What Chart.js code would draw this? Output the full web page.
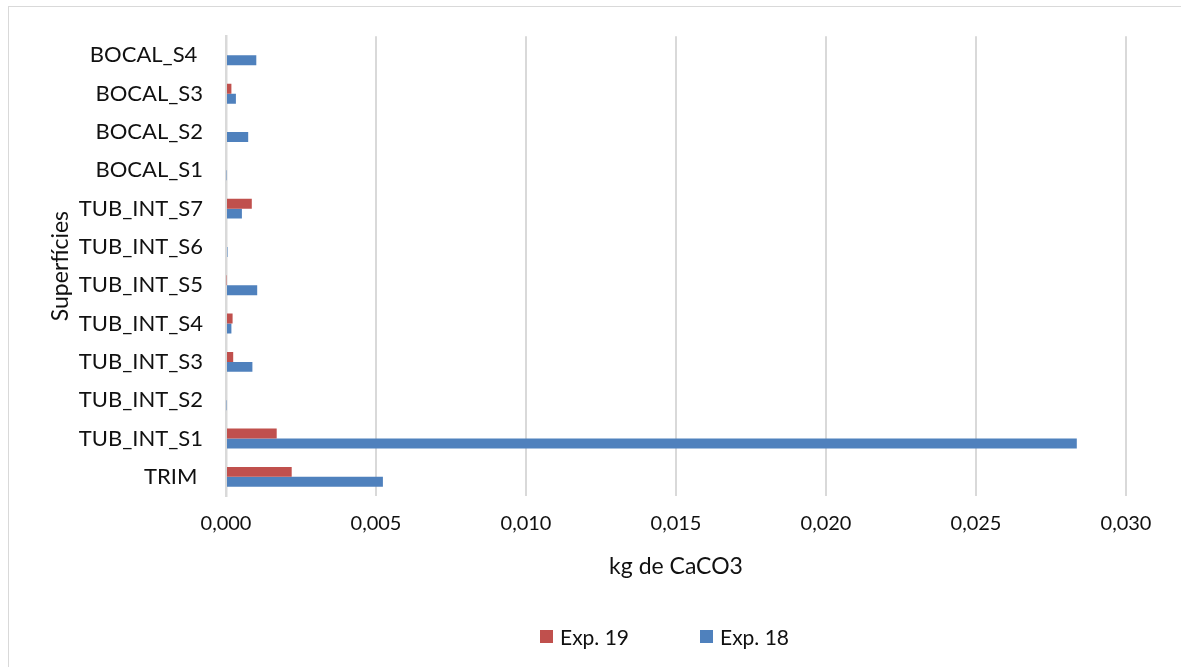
<!DOCTYPE html>
<html>
<head>
<meta charset="utf-8">
<script src="https://cdn.jsdelivr.net/npm/chart.js@4/dist/chart.umd.min.js"></script>
<style>
  html, body { margin: 0; padding: 0; background: #fff; }
  #wrap { position: relative; width: 1181px; height: 667px; overflow: hidden; }
  #frame { position: absolute; left: 8px; top: 6px; width: 1200px; height: 700px;
           border: 1.5px solid #d9d9d9; box-sizing: border-box; pointer-events: none; }
  #c { position: absolute; left: 0; top: 0; }
  .lg-item { position: absolute; top: 622px; height: 28px; display: flex; align-items: center;
             font-family: Lato, "Open Sans", sans-serif; font-size: 21px; color: #111; white-space: nowrap; }
  .lg-box { width: 13px; height: 13px; margin-right: 7px; flex: none; }
</style>
</head>
<body>
<div id="wrap">
  <div id="frame"></div>
  <canvas id="c" width="1181" height="667"></canvas>
  <div id="legend"></div>
</div>
<script>
// Surfaces, top to bottom
const surfaces = ['BOCAL_S4 ', 'BOCAL_S3', 'BOCAL_S2', 'BOCAL_S1', 'TUB_INT_S7', 'TUB_INT_S6',
  'TUB_INT_S5', 'TUB_INT_S4', 'TUB_INT_S3', 'TUB_INT_S2', 'TUB_INT_S1', 'TRIM '];

// kg de CaCO3 per surface
const exp19 = [0, 0.00018, 0, 0, 0.00086, 0, 0.00002, 0.00022, 0.00024, 0, 0.00169, 0.00219];
const exp18 = [0.00101, 0.00033, 0.00074, 0.00002, 0.00053, 0.00005, 0.00104, 0.00018, 0.00088, 0.00002, 0.02836, 0.00523];

const xTickLabels = ['0,000', '0,005', '0,010', '0,015', '0,020', '0,025', '0,030'];

const FONT = 'Lato, "Open Sans", sans-serif';
const TEXT = '#111';

const chart = new Chart(document.getElementById('c'), {
  type: 'bar',
  data: {
    labels: surfaces,
    datasets: [
      { label: 'Exp. 19', data: exp19, backgroundColor: '#C0504D', borderWidth: 0 },
      { label: 'Exp. 18', data: exp18, backgroundColor: '#4F81BD', borderWidth: 0 }
    ]
  },
  options: {
    indexAxis: 'y',
    responsive: false,
    animation: false,
    categoryPercentage: 0.52,
    barPercentage: 1.0,
    layout: { padding: { top: 35, right: 55, left: 0, bottom: 0 } },
    plugins: {
      tooltip: { enabled: false },
      legend: { display: false }
    },
    scales: {
      x: {
        min: 0, max: 0.03,
        ticks: {
          stepSize: 0.005,
          padding: 16,
          color: TEXT,
          font: { family: FONT, size: 20 },
          maxRotation: 0,
          callback: (v, i) => xTickLabels[i]
        },
        grid: { color: '#d9d9d9', lineWidth: 2, drawTicks: false },
        border: { display: false },
        title: {
          display: true, text: 'kg de CaCO3', color: TEXT,
          font: { family: FONT, size: 23 },
          padding: { top: 0, bottom: 87 }
        },
        afterFit(scale) { scale.height = 171; }
      },
      y: {
        ticks: {
          padding: 23,
          color: TEXT,
          font: { family: FONT, size: 22 }
        },
        grid: { display: false, drawTicks: false },
        border: { display: true, color: '#d9d9d9', width: 2.5 },
        title: {
          display: true, text: 'Superfícies', color: TEXT,
          font: { family: FONT, size: 23 },
          padding: { top: 47, bottom: 0 }
        },
        afterFit(scale) { scale.width = 226; }
      }
    }
  }
});

// Legend below the axis title, built from the chart's datasets
const legendX = [540, 700];
const legendEl = document.getElementById('legend');
chart.data.datasets.forEach((ds, i) => {
  const item = document.createElement('div');
  item.className = 'lg-item';
  item.style.left = legendX[i] + 'px';
  const box = document.createElement('span');
  box.className = 'lg-box';
  box.style.background = ds.backgroundColor;
  const txt = document.createElement('span');
  txt.textContent = ds.label;
  item.appendChild(box);
  item.appendChild(txt);
  legendEl.appendChild(item);
});
</script>
</body>
</html>
